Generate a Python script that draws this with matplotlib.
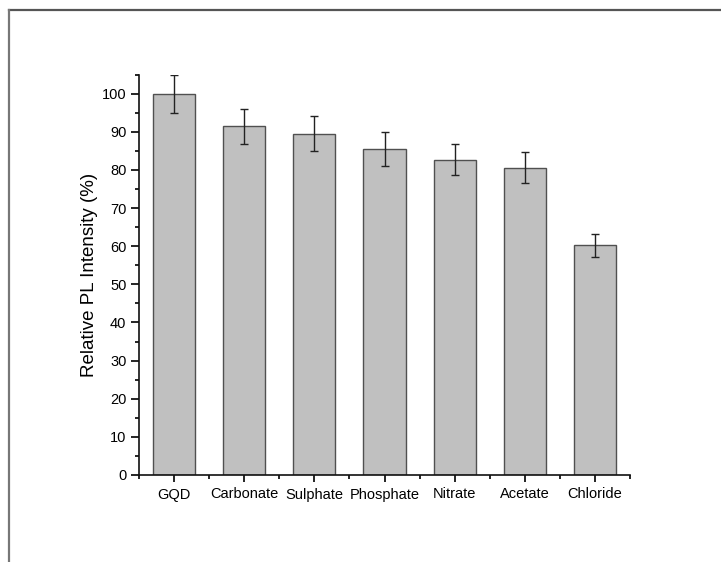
import matplotlib
matplotlib.use("Agg")
import matplotlib.pyplot as plt
from matplotlib.lines import Line2D
from matplotlib.ticker import MultipleLocator, FixedLocator
import numpy as np

categories = ["GQD", "Carbonate", "Sulphate", "Phosphate", "Nitrate", "Acetate", "Chloride"]
values = [100.0, 91.4, 89.5, 85.5, 82.7, 80.6, 60.2]
errors = [5.0, 4.6, 4.5, 4.4, 4.1, 4.0, 3.0]
yticks = [0, 10, 20, 30, 40, 50, 60, 70, 80, 90, 100]

plt.rcParams['font.family'] = ['Liberation Sans', 'DejaVu Sans']

W, H = 721, 562
fig = plt.figure(figsize=(W / 100, H / 100), dpi=100)

# outer frame lines (top and left)
fig.add_artist(Line2D([9 / W, 1], [1 - 9.5 / H, 1 - 9.5 / H], color="#555555", lw=1.6))
fig.add_artist(Line2D([9 / W, 9 / W], [0, 1 - 9.5 / H], color="#777777", lw=1.6))

left, right = 139 / W, 630 / W
bottom, top = 1 - 475 / H, 1 - 74.5 / H
ax = fig.add_axes([left, bottom, right - left, top - bottom])

x = np.arange(len(categories))
ax.bar(x, values, width=0.6, color="#c0c0c0", edgecolor="#505050", linewidth=1.0, zorder=2)
ax.errorbar(x, values, yerr=errors, fmt="none", ecolor="#222222", elinewidth=1.0,
            capsize=3, capthick=1.0, zorder=3)

ax.set_xlim(-0.5, 6.5)
ax.set_ylim(0, 105)
ax.set_xticks(x)
ax.set_xticklabels(categories, fontsize=10.5)
ax.xaxis.set_minor_locator(FixedLocator(np.arange(-0.5, 7.0, 1.0)))
ax.set_yticks(yticks)
ax.set_yticklabels([str(t) for t in yticks], fontsize=10.5)
ax.yaxis.set_minor_locator(MultipleLocator(5))

for s in ["top", "right"]:
    ax.spines[s].set_visible(False)
for s in ["left", "bottom"]:
    ax.spines[s].set_linewidth(1.2)
    ax.spines[s].set_color("#111111")

ax.tick_params(axis="y", which="major", direction="out", length=6, width=1.2, pad=3)
ax.tick_params(axis="y", which="minor", direction="out", length=3, width=1.2)
ax.tick_params(axis="x", which="major", direction="out", length=5, width=1.2, pad=4)
ax.tick_params(axis="x", which="minor", direction="out", length=3, width=1.2)

ax.set_ylabel("Relative PL Intensity (%)", fontsize=13.5, labelpad=3)

fig.savefig("out.png", dpi=100)
